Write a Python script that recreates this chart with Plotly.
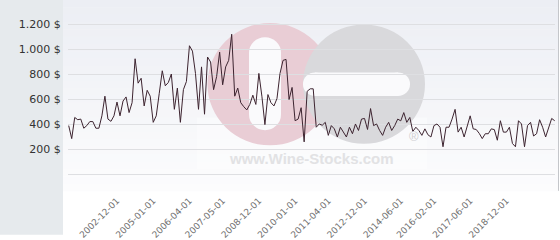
import plotly.graph_objects as go

# ---- data ----
prices = [
    392, 288, 457, 439, 444, 371, 392, 424, 424, 371, 371, 470, 627, 444, 426, 470, 580, 470, 588, 621,
    496, 575, 926, 731, 770, 549,
    674, 627, 418, 470, 650, 830, 710, 736, 804, 522, 692, 418, 679, 744, 1030, 987, 809, 522, 861, 483,
    940, 900, 679, 783, 979, 718, 861, 913, 1122, 627, 692, 575, 543, 517, 561, 635, 561, 809, 627, 400,
    640, 575, 549, 608, 809, 913, 921, 600, 697, 431, 444, 535, 262, 666, 686, 686,
    379, 405, 395, 418, 314, 392, 366, 301, 379, 340, 301, 379, 327, 405, 353, 444, 449, 361, 528, 392,
    405, 353, 314, 379,
    418, 353, 392, 444, 430, 496, 418, 457, 345, 379, 353, 314, 366, 319, 301, 392, 405, 379, 223, 379,
    379, 444, 522, 340, 379,
    301, 392, 470, 366, 361, 330, 288, 327, 327, 366, 360, 275, 431, 340, 340, 379, 249, 223, 431, 405,
    223, 392, 418, 309, 327, 439, 379, 301, 379, 449, 431,
]
tick_index = [16, 28, 40, 51, 63, 75, 86, 98, 110, 121, 133, 145]
tick_dates = ["2002-12-01", "2005-01-01", "2006-04-01", "2007-05-01", "2008-12-01", "2010-01-01",
              "2011-04-01", "2012-12-01", "2014-06-01", "2016-02-01", "2017-06-01", "2018-12-01"]
y_tick_vals = [0, 200, 400, 600, 800, 1000, 1200]
y_tick_text = ["", "200 $", "400 $", "600 $", "800 $", "1.000 $", "1.200 $"]

# ---- layout geometry (pixels) ----
W, H = 560, 240
L, R, T, B = 68, 5, 0, 54
PW, PH = W - L - R, H - T - B


def fx(p):
    return (p - L) / PW


def fy(p):
    return 1 - (p - T) / PH


shapes = []
# left grey panel
shapes.append(dict(type="rect", xref="paper", yref="paper", layer="below",
                   x0=fx(0), x1=fx(63), y0=fy(H), y1=fy(0),
                   fillcolor="#e6eaed", line=dict(width=0)))
# plot-area vertical gradient
nb = 26
top_c, bot_c = (236, 238, 244), (252, 252, 253)
for i in range(nb):
    t = i / (nb - 1)
    c = tuple(round(top_c[k] + (bot_c[k] - top_c[k]) * t) for k in range(3))
    shapes.append(dict(type="rect", xref="paper", yref="paper", layer="below",
                       x0=fx(63), x1=fx(559), y0=fy(195 * (i + 1) / nb + 0.5), y1=fy(195 * i / nb),
                       fillcolor="rgb(%d,%d,%d)" % c, line=dict(width=0)))
# right border
shapes.append(dict(type="line", xref="paper", yref="paper", layer="below",
                   x0=fx(558.5), x1=fx(558.5), y0=fy(195), y1=fy(0),
                   line=dict(color="#c4c6ca", width=1)))
# watermark backdrop (lower part)
shapes.append(dict(type="rect", xref="paper", yref="paper", layer="below",
                   x0=fx(197), x1=fx(427), y0=fy(173), y1=fy(120),
                   fillcolor="rgba(255,255,255,0.35)", line=dict(width=0)))


def circle(cx, cy, r, color):
    return dict(type="circle", xref="paper", yref="paper", layer="below",
                x0=fx(cx - r), x1=fx(cx + r), y0=fy(cy + r), y1=fy(cy - r),
                fillcolor=color, line=dict(width=0))


def rrect_v(x0, x1, y0, y1, color):
    r = (x1 - x0) / 2
    return [circle((x0 + x1) / 2, y0 + r, r, color), circle((x0 + x1) / 2, y1 - r, r, color),
            dict(type="rect", xref="paper", yref="paper", layer="below",
                 x0=fx(x0), x1=fx(x1), y0=fy(y1 - r), y1=fy(y0 + r), fillcolor=color, line=dict(width=0))]


def rrect_h(x0, x1, y0, y1, color):
    r = (y1 - y0) / 2
    return [circle(x0 + r, (y0 + y1) / 2, r, color), circle(x1 - r, (y0 + y1) / 2, r, color),
            dict(type="rect", xref="paper", yref="paper", layer="below",
                 x0=fx(x0 + r), x1=fx(x1 - r), y0=fy(y1), y1=fy(y0), fillcolor=color, line=dict(width=0))]


pink = "rgb(233,205,213)"
grey = "rgb(217,217,220)"
white = "rgb(250,250,252)"
shapes.append(circle(270, 86, 62.5, pink))
shapes += rrect_v(249, 281, 38, 133, white)
shapes.append(circle(364, 86, 61, grey))
shapes += rrect_h(303, 410, 74, 98, white)

fig = go.Figure()
fig.add_trace(go.Scatter(x=list(range(len(prices))), y=prices, mode="lines",
                         line=dict(color="#3d2430", width=1), hoverinfo="skip"))

fig.update_layout(
    width=W, height=H,
    margin=dict(l=L, r=R, t=T, b=B, pad=0),
    paper_bgcolor="white", plot_bgcolor="rgba(0,0,0,0)",
    showlegend=False,
    shapes=shapes,
    annotations=[
        dict(xref="paper", yref="paper", x=fx(311.5), y=fy(162), text="<b>www.Wine-Stocks.com</b>",
             showarrow=False, font=dict(family="Liberation Sans, Arial", size=15, color="#e2e2e4"),
             xanchor="center", yanchor="middle"),
        dict(xref="paper", yref="paper", x=fx(414), y=fy(140), text="®",
             showarrow=False, font=dict(family="Liberation Sans, Arial", size=13, color="#cfcfd2"),
             xanchor="center", yanchor="middle"),
    ],
    xaxis=dict(range=[-0.23, len(prices) - 0.9], tickmode="array", tickvals=tick_index, ticktext=tick_dates,
               tickangle=-45, showgrid=False, zeroline=False, showline=False,
               ticks="outside", ticklen=9, tickcolor="rgba(0,0,0,0)",
               tickfont=dict(family="DejaVu Sans", size=9, color="#707070")),
    yaxis=dict(range=[-58.6, 1395.4], tickmode="array", tickvals=y_tick_vals, ticktext=y_tick_text,
               showgrid=True, gridcolor="#dedfe2", gridwidth=1, zeroline=False, showline=False,
               ticks="outside", ticklen=4, tickcolor="rgba(0,0,0,0)",
               tickfont=dict(family="DejaVu Sans", size=11, color="#333333")),
)

fig.write_html("out.html")
